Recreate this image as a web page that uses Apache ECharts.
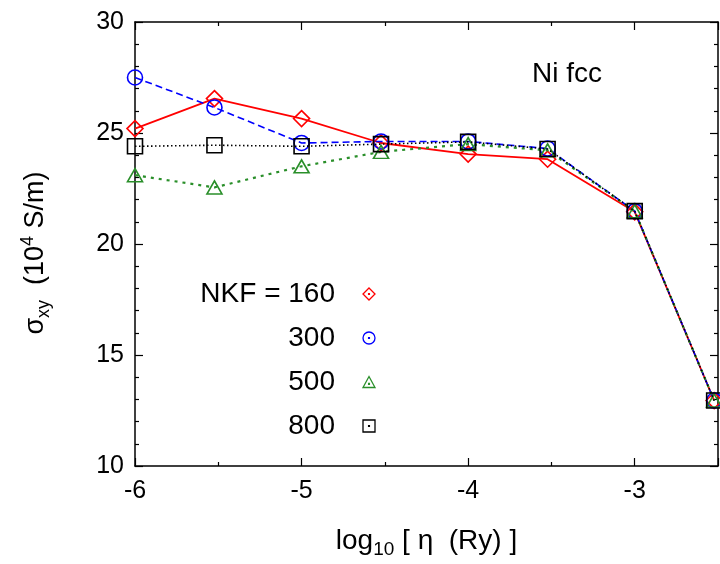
<!DOCTYPE html>
<html>
<head>
<meta charset="utf-8">
<script src="https://cdn.jsdelivr.net/npm/echarts@6/dist/echarts.min.js"></script>
<style>html,body{margin:0;padding:0;background:#fff}#c{width:720px;height:564px}</style>
</head>
<body>
<div id="c"></div>
<script>
// x positions: log10 of eta values (1e-6, 3e-6, ... 3e-3)
var xValues = [-6, -5.523, -5, -4.523, -4, -3.523, -3, -2.523];
var nkf160 = [25.2, 26.55, 25.65, 24.55, 24.05, 23.82, 21.45, 12.95];
var nkf300 = [27.5, 26.15, 24.55, 24.62, 24.62, 24.3, 21.48, 12.95];
var nkf500 = [23.1, 22.55, 23.5, 24.15, 24.5, 24.22, 21.48, 12.95];
var nkf800 = [24.4, 24.45, 24.4, 24.5, 24.6, 24.28, 21.48, 12.95];
var seriesNames = ['NKF = 160', '300', '500', '800'];
var xTickLabels = ['-6', '-5', '-4', '-3'];

var FONT = 'Liberation Sans, Arial, Helvetica, sans-serif';
var colors = ['#ff0000', '#0000ff', '#2a8f2a', '#000000'];
var symbols = ['diamond', 'circle', 'triangle', 'rect'];
var dashes = ['solid', [7, 4], [3, 5], [1.5, 2.5]];
var widths = [1.8, 1.6, 2.2, 1.6];
var legendIcons = [
  'path://M0,-6L6,0L0,6L-6,0Z M-0.4,-0.4L0.4,-0.4L0.4,0.4L-0.4,0.4Z',
  'path://M6,0A6,6,0,1,1,-6,0A6,6,0,1,1,6,0Z M-0.4,-0.4L0.4,-0.4L0.4,0.4L-0.4,0.4Z',
  'path://M0,-6L6,5L-6,5Z M-0.4,1L0.4,1L0.4,1.8L-0.4,1.8Z',
  'path://M-6,-6L6,-6L6,6L-6,6Z M-0.4,-0.4L0.4,-0.4L0.4,0.4L-0.4,0.4Z'
];
var allData = [nkf160, nkf300, nkf500, nkf800];

function pairs(ys) { return xValues.map(function (x, i) { return [x, ys[i]]; }); }

var series = allData.map(function (ys, k) {
  return {
    name: seriesNames[k],
    type: 'line',
    data: pairs(ys),
    symbol: symbols[k],
    symbolSize: k === 0 ? 16 : (k === 2 ? [15, 13] : 15),
    showAllSymbol: true,
    clip: false,
    lineStyle: { color: colors[k], width: widths[k], type: dashes[k] },
    itemStyle: { color: 'transparent', borderColor: colors[k], borderWidth: 1.6 },
    emphasis: { disabled: true },
    animation: false,
    z: 2 + k
  };
});

var axisLineStyle = { lineStyle: { color: '#000', width: 1.5 } };
var chart = echarts.init(document.getElementById('c'), null, { renderer: 'canvas' });
chart.setOption({
  animation: false,
  textStyle: { fontFamily: FONT },
  grid: { left: 135, top: 22, right: 2, bottom: 92 },
  title: {
    text: 'Ni fcc', left: 527, top: 55,
    textStyle: { fontFamily: FONT, fontSize: 28, fontWeight: 'normal', color: '#000' }
  },
  legend: {
    orient: 'vertical',
    left: 172, top: 275,
    align: 'right',
    itemWidth: 12, itemHeight: 12,
    itemGap: 16,
    selectedMode: false,
    data: seriesNames.map(function (n, k) {
      return { name: n, icon: legendIcons[k],
        itemStyle: { color: 'transparent', borderColor: colors[k], borderWidth: 1.3 } };
    }),
    formatter: function (n) { return '{a|' + n + '}'; },
    textStyle: {
      fontFamily: FONT, fontSize: 28, color: '#000', padding: [0, 23, 0, 0],
      rich: { a: { width: 158, align: 'right', fontFamily: FONT, fontSize: 28, color: '#000', lineHeight: 32 } }
    }
  },
  xAxis: [{
    type: 'value', min: -6, max: -2.5, interval: 1,
    position: 'bottom',
    axisLine: axisLineStyle,
    axisTick: { inside: true, length: 8, lineStyle: { color: '#000', width: 1.2 } },
    minorTick: { show: true, splitNumber: 2, length: 4, lineStyle: { color: '#000', width: 1.2 } },
    splitLine: { show: false },
    axisLabel: {
      color: '#000', fontSize: 25, fontFamily: FONT, margin: 13, showMaxLabel: false,
      formatter: function (v) { return Math.abs(v - Math.round(v)) < 1e-6 ? xTickLabels[Math.round(v) + 6] || '' : ''; }
    },
    name: 'log{s|10} [ η  (Ry) ]',
    nameLocation: 'middle', nameGap: 57,
    nameTextStyle: {
      color: '#000', fontSize: 28, fontFamily: FONT, lineHeight: 36,
      rich: { s: { fontSize: 19, fontFamily: FONT, color: '#000', verticalAlign: 'bottom' } }
    }
  }, {
    type: 'value', min: -6, max: -2.5, interval: 1, position: 'top',
    axisLine: axisLineStyle,
    axisTick: { inside: true, length: 8, lineStyle: { color: '#000', width: 1.2 } },
    minorTick: { show: true, splitNumber: 2, length: 4, lineStyle: { color: '#000', width: 1.2 } },
    splitLine: { show: false }, axisLabel: { show: false }
  }],
  yAxis: [{
    type: 'value', min: 10, max: 30, interval: 5, position: 'left',
    axisLine: { show: true, lineStyle: { color: '#000', width: 1.5 } },
    axisTick: { inside: true, length: 8, lineStyle: { color: '#000', width: 1.2 } },
    minorTick: { show: true, splitNumber: 5, length: 4, lineStyle: { color: '#000', width: 1.2 } },
    splitLine: { show: false },
    axisLabel: { color: '#000', fontSize: 25, fontFamily: FONT, margin: 11 },
    name: 'σ{sub|xy}  (10{sup|4} S/m)',
    nameLocation: 'middle', nameRotate: 90, nameGap: 82,
    nameTextStyle: {
      color: '#000', fontSize: 27, fontFamily: FONT, lineHeight: 34, padding: [0, 18, 0, 0],
      rich: {
        sub: { fontSize: 18, fontFamily: FONT, color: '#000', verticalAlign: 'bottom' },
        sup: { fontSize: 18, fontFamily: FONT, color: '#000', verticalAlign: 'top' }
      }
    }
  }, {
    type: 'value', min: 10, max: 30, interval: 5, position: 'right',
    axisLine: { show: true, lineStyle: { color: '#000', width: 1.5 } },
    axisTick: { inside: true, length: 8, lineStyle: { color: '#000', width: 1.2 } },
    minorTick: { show: true, splitNumber: 5, length: 4, lineStyle: { color: '#000', width: 1.2 } },
    splitLine: { show: false }, axisLabel: { show: false }
  }],
  series: series
});
</script>
</body>
</html>
